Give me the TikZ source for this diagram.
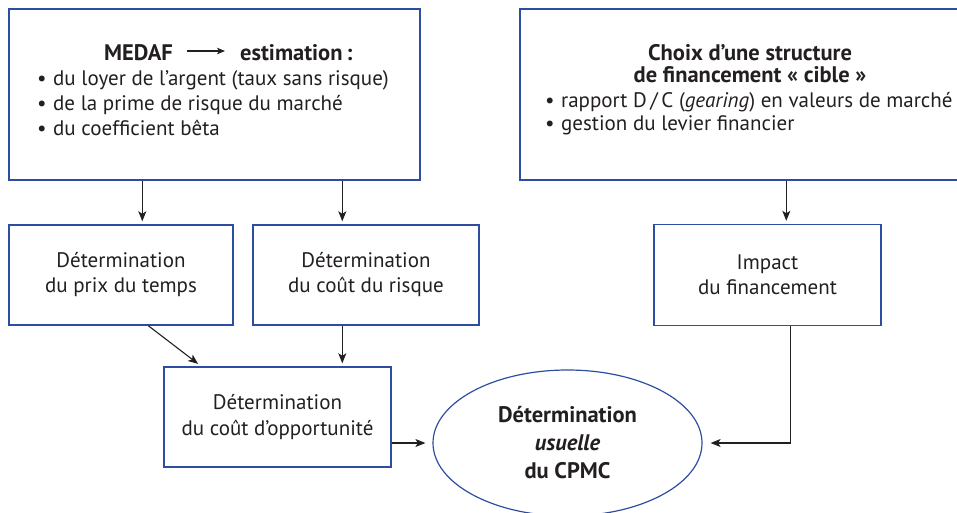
\documentclass[tikz,border=0pt]{standalone}
\usepackage{fontspec}
\setmainfont{PT Sans}
\usetikzlibrary{shapes.geometric,arrows.meta,calc}
\definecolor{boxblue}{RGB}{45,78,160}
\definecolor{ink}{RGB}{35,31,32}
\newcommand{\bfx}{\fontsize{22.5}{25}\selectfont\bfseries}
\tikzset{
  box/.style={draw=boxblue, line width=1.4pt, rectangle, inner sep=0pt, align=center, text=ink, font=\fontsize{21}{25}\selectfont},
  oval/.style={draw=boxblue, line width=1.2pt, ellipse, inner sep=0pt, align=center, text=ink, font=\fontsize{21}{25}\selectfont, minimum width=269pt, minimum height=146pt},
  conn/.style={draw=ink, line width=1.1pt, -{Stealth[length=10pt,width=8pt,inset=2.5pt]}, shorten >=3pt},
  smallarr/.style={draw=ink, line width=1.1pt, -{Stealth[length=8pt,width=6.5pt,inset=2pt]}},
  txtline/.style={inner sep=0pt, anchor=base west, text=ink, font=\fontsize{21}{25}\selectfont},
}
\newcommand{\bul}{\makebox[16pt][l]{•}}
\begin{document}
\begin{tikzpicture}[x=1pt,y=-1pt]
\useasboundingbox (0,0) rectangle (957,512);

% boxes
\node[box, minimum width=411pt, minimum height=171pt] (medaf) at (214.5,94.5) {};
\node[box, minimum width=462pt, minimum height=171pt] (choix) at (751,94.5) {};
\node[box, minimum width=224pt, minimum height=100pt] (prix) at (121,275) {Détermination\\du prix du temps};
\node[box, minimum width=226pt, minimum height=100pt] (risque) at (366,275) {Détermination\\du coût du risque};
\node[box, minimum width=227pt, minimum height=101pt] (impact) at (767.5,275) {Impact\\du financement};
\node[box, minimum width=227pt, minimum height=100pt] (opp) at (277.5,417) {Détermination\\[1pt]du coût d’opportunité};
\node[oval] (ell) at (567.5,443) {{\bfx Détermination}\\[3pt]{\bfx\itshape usuelle}\\[3pt]{\bfx du CPMC}};

% texts of the top boxes
\node[txtline, anchor=base east] (medafw) at (173,60) {\bfx MEDAF};
\node[txtline] (estim) at (240,60) {\bfx estimation\,:};
\draw[smallarr] ($(medafw.base east)+(14,-9)$) -- ($(estim.base west)+(-15,-9)$);
\node[txtline] (l1) at (37,85) {\bul du loyer de l’argent (taux sans risque)};
\node[txtline] (l2) at (37,110) {\bul de la prime de risque du marché};
\node[txtline] (l3) at (37,135) {\bul du coefficient bêta};

\node[txtline, anchor=base] (rh1) at (750,60) {\bfx Choix d’une structure};
\node[txtline, anchor=base] (rh2) at (750,82.5) {\bfx de financement « cible »};
\node[txtline] (r1) at (545,107.5) {\bul rapport D\,/\,C (\textit{gearing}) en valeurs de marché};
\node[txtline] (r2) at (545,130) {\bul gestion du levier financier};

% connectors
\draw[conn] ([xshift=134pt]medaf.south west) -- ([xshift=134pt]medaf.south west |- prix.north);
\draw[conn] ([xshift=334pt]medaf.south west) -- ([xshift=334pt]medaf.south west |- risque.north);
\draw[conn] ([xshift=267pt]choix.south west) -- ([xshift=267pt]choix.south west |- impact.north);
\draw[conn, shorten >=4pt] ([xshift=140pt]prix.south west) -- ([xshift=38pt]opp.north west);
\draw[conn] ([xshift=90pt]risque.south west) -- ([xshift=90pt]risque.south west |- opp.north);
\draw[conn, shorten >=7pt] (ell.west -| opp.east) -- (ell.west);
\draw[conn, shorten >=8pt] ([xshift=137pt]impact.south west) |- (ell.east);
\end{tikzpicture}
\end{document}
